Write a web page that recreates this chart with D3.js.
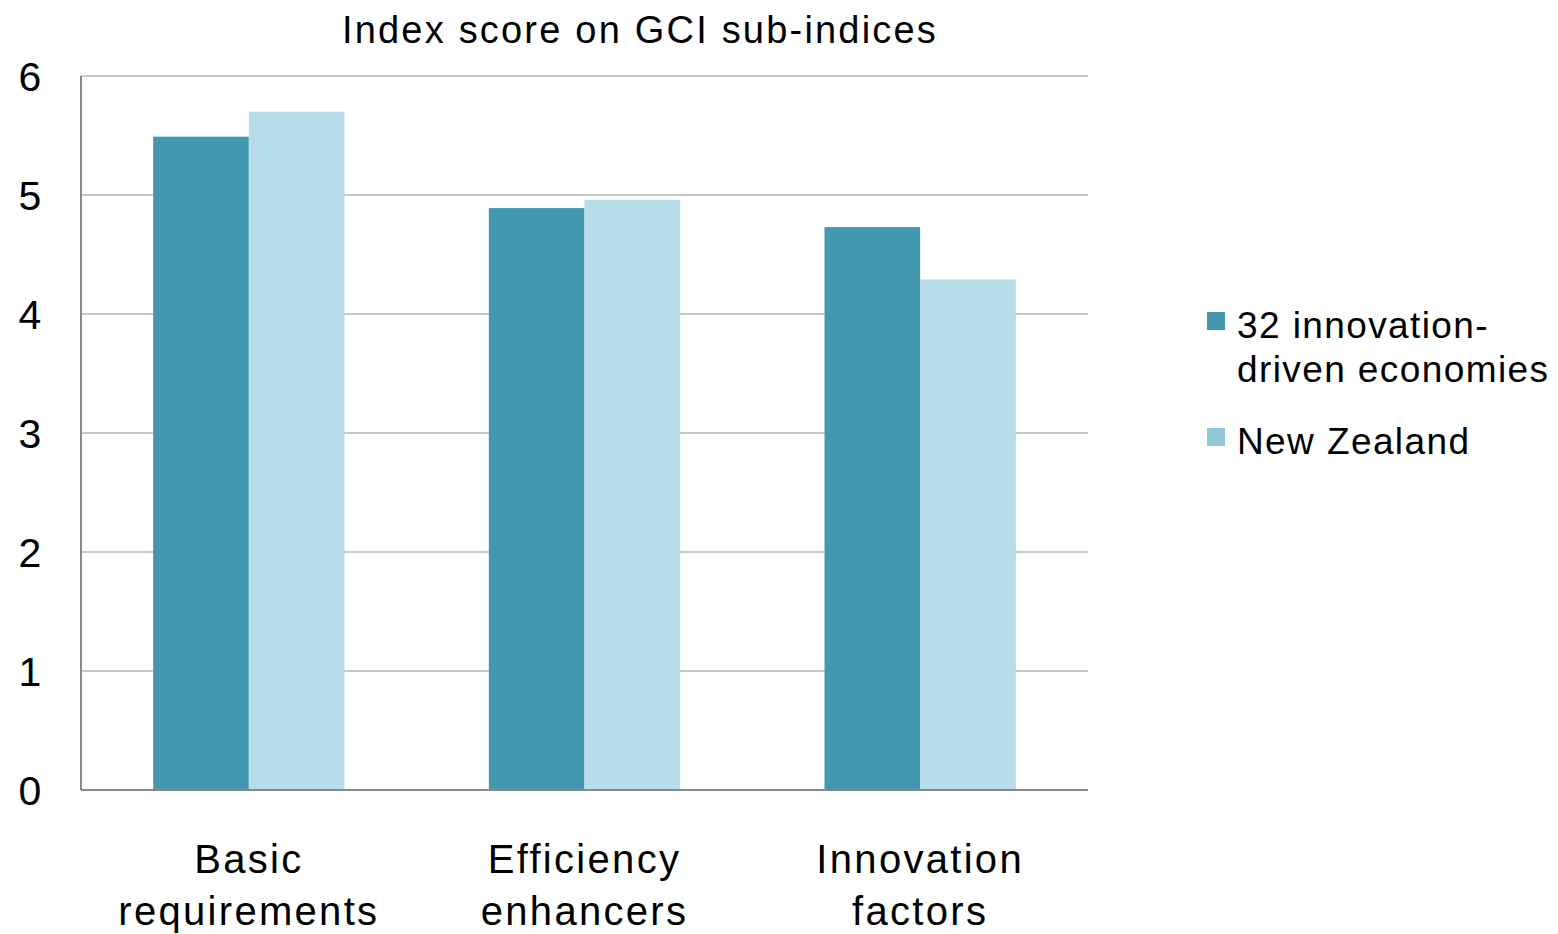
<!DOCTYPE html>
<html>
<head>
<meta charset="utf-8">
<script src="https://cdn.jsdelivr.net/npm/d3@7"></script>
<style>
    body { margin: 0; background: #fff; }
    svg text { font-family: "Liberation Sans", Arial, sans-serif; fill: #000; }
</style>
</head>
<body>
<div id="chart"></div>
<script>

var categories = [['Basic', 'requirements'], ['Efficiency', 'enhancers'], ['Innovation', 'factors']];
var seriesNames = [['32 innovation-', 'driven economies'], ['New Zealand']];
var innovationDriven = [5.49, 4.89, 4.73];
var newZealand = [5.70, 4.96, 4.29];
var yTicks = [0, 1, 2, 3, 4, 5, 6];

var barColors = ['#4398af', '#b7dde8'];
var legendColors = ['#4398af', '#93c6d6'];

var width = 1558, height = 934;
var margin = { left: 81, top: 76, right: 470, bottom: 144 };
var innerWidth = width - margin.left - margin.right;
var innerHeight = height - margin.top - margin.bottom;

var svg = d3.select('#chart')
    .append('svg')
    .attr('width', width)
    .attr('height', height);

svg.append('text')
    .attr('x', 640)
    .attr('y', 43)
    .attr('text-anchor', 'middle')
    .style('font-size', '38px')
    .style('letter-spacing', '2.2px')
    .text('Index score on GCI sub-indices');

var canvas = svg.append('g')
    .attr('transform', 'translate(' + [margin.left, margin.top] + ')');

var x0 = d3.scaleBand()
    .domain(d3.range(categories.length))
    .range([0, innerWidth])
    .paddingInner(0.43)
    .paddingOuter(0.215);

var x1 = d3.scaleBand()
    .domain([0, 1])
    .range([0, x0.bandwidth()]);

var y = d3.scaleLinear()
    .domain([0, 6])
    .range([innerHeight, 0]);

// gridlines
canvas.append('g')
    .selectAll('line')
    .data(yTicks.slice(1))
    .enter()
    .append('line')
    .attr('x1', 0)
    .attr('x2', innerWidth)
    .attr('y1', d => y(d))
    .attr('y2', d => y(d))
    .style('stroke', '#c8c8c8')
    .style('stroke-width', 2);

var values = [innovationDriven, newZealand];

var groups = canvas.selectAll('g.group')
    .data(categories.map((c, i) => i))
    .enter()
    .append('g')
    .attr('class', 'group')
    .attr('transform', d => 'translate(' + x0(d) + ',0)');

groups.selectAll('rect')
    .data(i => values.map((s, k) => ({ k: k, v: s[i] })))
    .enter()
    .append('rect')
    .attr('x', d => x1(d.k))
    .attr('width', x1.bandwidth())
    .attr('y', d => y(d.v))
    .attr('height', d => innerHeight - y(d.v))
    .style('fill', d => barColors[d.k]);

// axis lines
canvas.append('line')
    .attr('x1', 0).attr('x2', 0)
    .attr('y1', 0).attr('y2', innerHeight)
    .style('stroke', '#888').style('stroke-width', 2);

canvas.append('line')
    .attr('x1', 0).attr('x2', innerWidth)
    .attr('y1', innerHeight).attr('y2', innerHeight)
    .style('stroke', '#888').style('stroke-width', 2);

// y tick labels
canvas.append('g')
    .selectAll('text')
    .data(yTicks)
    .enter()
    .append('text')
    .attr('x', -51)
    .attr('y', d => y(d) + 15)
    .attr('text-anchor', 'middle')
    .style('font-size', '41px')
    .text(d => d);

// category labels
var catLabels = canvas.append('g')
    .selectAll('text')
    .data(categories)
    .enter()
    .append('text')
    .attr('text-anchor', 'middle')
    .attr('transform', (d, i) => 'translate(' + (x0(i) + x0.bandwidth() / 2) + ',' + (innerHeight + 83) + ')')
    .style('font-size', '40px')
    .style('letter-spacing', '2.3px');

catLabels.selectAll('tspan')
    .data(d => d)
    .enter()
    .append('tspan')
    .attr('x', 0)
    .attr('dy', (d, i) => i === 0 ? 0 : 52)
    .text(d => d);

// legend
var legend = svg.append('g')
    .attr('transform', 'translate(1207,312)');

var items = legend.selectAll('g')
    .data(seriesNames)
    .enter()
    .append('g')
    .attr('transform', (d, i) => 'translate(0,' + (i * 116) + ')');

items.append('rect')
    .attr('width', 18)
    .attr('height', 18)
    .style('fill', (d, i) => legendColors[i]);

var legendText = items.append('text')
    .attr('x', 30)
    .attr('y', 26)
    .style('font-size', '37px')
    .style('letter-spacing', '1.4px');

legendText.selectAll('tspan')
    .data(d => d)
    .enter()
    .append('tspan')
    .attr('x', 30)
    .attr('dy', (d, i) => i === 0 ? 0 : 44)
    .text(d => d);

</script>
</body>
</html>
